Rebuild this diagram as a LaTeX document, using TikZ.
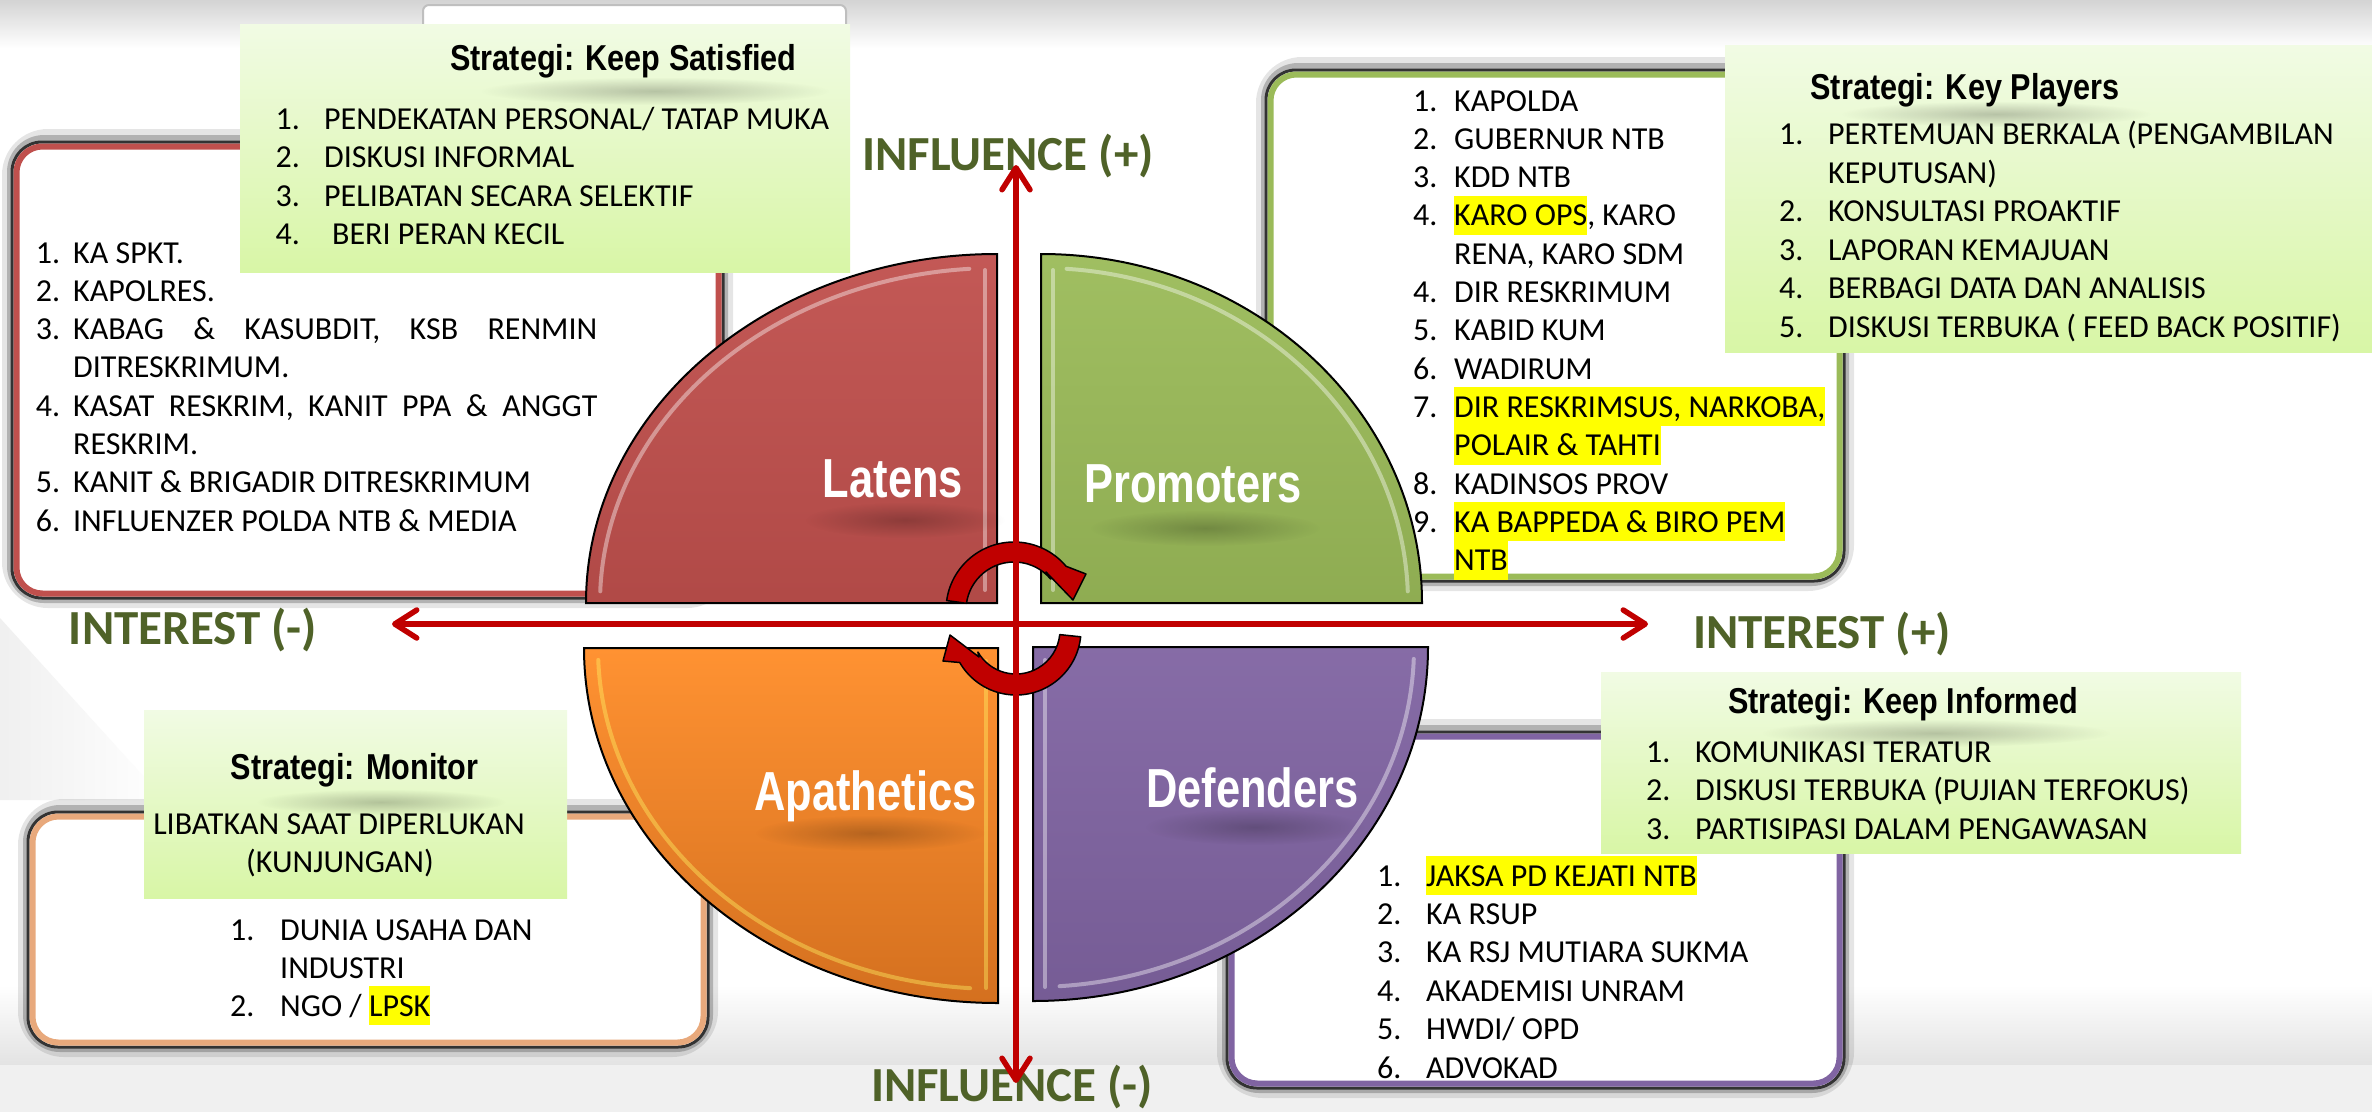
\documentclass[tikz,border=0pt]{standalone}
\usepackage{fontspec}
\setmainfont{Carlito}
\newfontfamily\titlefont[FakeStretch=0.85]{Liberation Sans}
\newfontfamily\quadfont[FakeStretch=0.79]{Liberation Sans}
\usetikzlibrary{arrows.meta,fadings}
\definecolor{axisred}{HTML}{C00000}
\definecolor{axisgreen}{HTML}{4F6228}
\definecolor{latred}{HTML}{C0504D}
\definecolor{progreen}{HTML}{9BBB59}
\definecolor{apatop}{HTML}{FF9232}
\definecolor{apabot}{HTML}{D4701F}
\definecolor{defpurple}{HTML}{8064A2}
\definecolor{boxtan}{HTML}{E8A97C}
\definecolor{strattop}{HTML}{F1FBE4}
\definecolor{stratbot}{HTML}{D8F6A6}
\definecolor{hlyellow}{HTML}{FFFF00}
\tikzfading[name=smudge, inner color=transparent!0, outer color=transparent!100]
\newlength\numw
\newcommand\li[2]{\hbox{\makebox[\numw][l]{#1}#2}}
\newcommand\hl[1]{{\fboxsep=0pt\colorbox{hlyellow}{\rule[-9pt]{0pt}{39pt}#1}}}
\newcommand\listframe[5]{%
  \draw[black,opacity=.10,line width=20pt,rounded corners=36pt] (#2,#3-3) rectangle (#4,#5);
  \draw[black,opacity=.22,line width=10pt,rounded corners=32pt] (#2,#3-2) rectangle (#4,#5);
  \filldraw[fill=white,draw=black!80,line width=3pt,rounded corners=30pt] (#2,#3) rectangle (#4,#5);
  \pgfmathsetmacro\lfxa{#2+4.5}\pgfmathsetmacro\lfya{#3+4.5}%
  \pgfmathsetmacro\lfxb{#4-4.5}\pgfmathsetmacro\lfyb{#5-4.5}%
  \draw[#1,line width=6pt,rounded corners=26pt] (\lfxa,\lfya) rectangle (\lfxb,\lfyb);
}
\tikzset{
  listtext/.style={anchor=base west, inner sep=0pt, font=\fontsize{32}{38}\selectfont},
  plaintext/.style={anchor=base, inner sep=0pt, font=\fontsize{32}{38}\selectfont},
  titletext/.style={anchor=base, inner sep=0pt, font=\titlefont\bfseries\fontsize{36}{36}\selectfont},
  quadlabel/.style={anchor=base, inner sep=0pt, text=white, font=\quadfont\bfseries\fontsize{55}{55}\selectfont},
  axlabel/.style={anchor=base, inner sep=0pt, text=axisgreen, font=\bfseries\fontsize{49}{49}\selectfont},
  stratbox/.style={top color=strattop, bottom color=stratbot},
  quadshape/.style={draw=black, line width=2pt},
  bevel/.style={white, opacity=.4, line width=4pt, line cap=round},
  cyclearrow/.style={fill=axisred, draw=black, line width=1.5pt, line join=round},
  axisline/.style={draw=axisred, line width=5.5pt, >={Straight Barb[length=22pt,width=28pt,round]}, <->},
  smudgefx/.style={fill=black, fill opacity=.22, path fading=smudge},
}
\begin{document}
\begin{tikzpicture}[x=1pt,y=-1pt]
\useasboundingbox (0,0) rectangle (2372,1112);
% ---------- background
\fill[white] (0,0) rectangle (2372,1112);
\shade[top color=black!17,bottom color=white] (0,0) rectangle (2372,48);
\shade[top color=white,bottom color=black!11] (0,985) rectangle (2372,1065);
\fill[black!6] (0,1065) rectangle (2372,1112);
\shade[left color=black!6,right color=white] (0,618) -- (165,800) -- (0,800) -- cycle;
% ---------- box peeking at the top
\filldraw[fill=white,draw=black!25,line width=2pt,rounded corners=6pt] (423,5) rectangle (846,60);
% ---------- list frames
\listframe{latred}{12}{142}{723}{598}
\listframe{progreen}{1266}{70}{1844}{581}
\listframe{boxtan}{28}{812}{708}{1047}
\listframe{defpurple}{1227}{732}{1844}{1088}
% ---------- list texts
\node[listtext] (latlist) at (35.6,263) {\vtop{\baselineskip=38.3pt\lineskiplimit=-100pt\setlength\numw{37.4pt}%
  \li{1.}{KA SPKT.}
  \li{2.}{KAPOLRES.}
  \li{3.}{\makebox[524pt][s]{KABAG \& KASUBDIT, KSB RENMIN}}
  \li{}{DITRESKRIMUM.}
  \li{4.}{\makebox[524pt][s]{KASAT RESKRIM, KANIT PPA \& ANGGT}}
  \li{}{RESKRIM.}
  \li{5.}{KANIT \& BRIGADIR DITRESKRIMUM}
  \li{6.}{INFLUENZER POLDA NTB \& MEDIA}}};
\node[listtext] (prolist) at (1413,111) {\vtop{\baselineskip=38.3pt\lineskiplimit=-100pt\setlength\numw{41pt}%
  \li{1.}{KAPOLDA}
  \li{2.}{GUBERNUR NTB}
  \li{3.}{KDD NTB}
  \li{4.}{\hl{KARO OPS}, KARO}
  \li{}{RENA, KARO SDM}
  \li{4.}{DIR RESKRIMUM}
  \li{5.}{KABID KUM}
  \li{6.}{WADIRUM}
  \li{7.}{\hl{DIR RESKRIMSUS, NARKOBA,}}
  \li{}{\hl{POLAIR \& TAHTI}}
  \li{8.}{KADINSOS PROV}
  \li{9.}{\hl{KA BAPPEDA \& BIRO PEM}}
  \li{}{\hl{NTB}}}};
\node[listtext] (apalist) at (230,940) {\vtop{\baselineskip=38pt\lineskiplimit=-100pt\setlength\numw{50pt}%
  \li{1.}{DUNIA USAHA DAN}
  \li{}{INDUSTRI}
  \li{2.}{NGO / \hl{LPSK}}}};
\node[listtext] (deflist) at (1377,886) {\vtop{\baselineskip=38.4pt\lineskiplimit=-100pt\setlength\numw{49pt}%
  \li{1.}{\hl{JAKSA PD KEJATI NTB}}
  \li{2.}{KA RSUP}
  \li{3.}{KA RSJ MUTIARA SUKMA}
  \li{4.}{AKADEMISI UNRAM}
  \li{5.}{HWDI/ OPD}
  \li{6.}{ADVOKAD}}};
% ---------- strategy boxes
\shade[stratbox] (240,24) rectangle (850,272);
\shade[stratbox] (1725,45) rectangle (2372,352);
\shade[stratbox] (1601,672) rectangle (2241,853);
\shade[stratbox] (144,710) rectangle (567,898);
\fill[smudgefx] (655,91) ellipse [x radius=175, y radius=14];
\fill[smudgefx] (1996,114) ellipse [x radius=155, y radius=13];
\fill[smudgefx] (1936,733) ellipse [x radius=175, y radius=14];
\fill[smudgefx] (381,802) ellipse [x radius=125, y radius=13];
\node[titletext] (kstitle) at (623.5,70) {Strategi: Keep Satisfied};
\node[titletext] (kptitle) at (1965,99) {Strategi: Key Players};
\node[titletext] (kititle) at (1903,713) {Strategi: Keep Informed};
\node[titletext] (motitle) at (354.5,779) {Strategi: Monitor};
\node[listtext] (kslist) at (275.5,129) {\vtop{\baselineskip=38.5pt\lineskiplimit=-100pt\setlength\numw{48.5pt}%
  \li{1.}{PENDEKATAN PERSONAL/ TATAP MUKA}
  \li{2.}{DISKUSI INFORMAL}
  \li{3.}{PELIBATAN SECARA SELEKTIF}
  \li{4.}{\hspace{8pt}BERI PERAN KECIL}}};
\node[listtext] (kplist) at (1779,144.5) {\vtop{\baselineskip=38.5pt\lineskiplimit=-100pt\setlength\numw{49pt}%
  \li{1.}{PERTEMUAN BERKALA (PENGAMBILAN}
  \li{}{KEPUTUSAN)}
  \li{2.}{KONSULTASI PROAKTIF}
  \li{3.}{LAPORAN KEMAJUAN}
  \li{4.}{BERBAGI DATA DAN ANALISIS}
  \li{5.}{DISKUSI TERBUKA ( FEED BACK POSITIF)}}};
\node[listtext] (kilist) at (1646,762) {\vtop{\baselineskip=38.5pt\lineskiplimit=-100pt\setlength\numw{49pt}%
  \li{1.}{KOMUNIKASI TERATUR}
  \li{2.}{DISKUSI TERBUKA (PUJIAN TERFOKUS)}
  \li{3.}{PARTISIPASI DALAM PENGAWASAN}}};
\node[plaintext] (moline1) at (339,834) {LIBATKAN SAAT DIPERLUKAN};
\node[plaintext] (moline2) at (340,872) {(KUNJUNGAN)};
% ---------- quadrants
\begin{scope}[shift={(997,603)}]
  \shadedraw[quadshape, top color=latred!95!white, bottom color=latred!92!black]
    (0,0) -- (-411,0) arc[start angle=180,end angle=270,x radius=411,y radius=349] -- cycle;
  \draw[bevel] (182:397 and 335) arc[start angle=182,end angle=266,x radius=397,y radius=335];
  \draw[bevel] (-12,-333) -- (-12,-13);
\end{scope}
\begin{scope}[shift={(1041,603)}]
  \shadedraw[quadshape, top color=progreen!95!white, bottom color=progreen!92!black]
    (0,0) -- (0,-349) arc[start angle=270,end angle=360,x radius=381,y radius=349] -- cycle;
  \draw[bevel] (274:367 and 335) arc[start angle=274,end angle=358,x radius=367,y radius=335];
  \draw[bevel] (12,-333) -- (12,-13);
\end{scope}
\begin{scope}[shift={(998,648)}]
  \shadedraw[quadshape, top color=apatop, bottom color=apabot]
    (0,0) -- (-414,0) arc[start angle=180,end angle=90,x radius=414,y radius=355] -- cycle;
  \draw[bevel, yellow!60!white] (178:400 and 341) arc[start angle=178,end angle=94,x radius=400,y radius=341];
  \draw[bevel, yellow!60!white] (-12,13) -- (-12,340);
\end{scope}
\begin{scope}[shift={(1033,647)}]
  \shadedraw[quadshape, top color=defpurple!95!white, bottom color=defpurple!92!black]
    (0,0) -- (395,0) arc[start angle=0,end angle=90,x radius=395,y radius=354] -- cycle;
  \draw[bevel] (2:381 and 340) arc[start angle=2,end angle=86,x radius=381,y radius=340];
  \draw[bevel] (12,13) -- (12,340);
\end{scope}
\fill[smudgefx] (905,520) ellipse [x radius=100, y radius=18];
\fill[smudgefx] (1205,528) ellipse [x radius=115, y radius=18];
\fill[smudgefx] (870,833) ellipse [x radius=115, y radius=18];
\fill[smudgefx] (1255,827) ellipse [x radius=110, y radius=18];
\node[quadlabel] (latens) at (893,497) {Latens};
\node[quadlabel] (promoters) at (1193,502) {Promoters};
\node[quadlabel] (apathetics) at (865.5,810) {Apathetics};
\node[quadlabel] (defenders) at (1252.5,807) {Defenders};
% ---------- circular arrows
\begin{scope}[shift={(1014,610)}]
  \filldraw[cyclearrow] (188:68) arc[start angle=188,end angle=320,radius=68]
    -- (72,-36) -- (59,-10) -- (32,-38) -- (320:48) arc[start angle=320,end angle=188,radius=48] -- cycle;
\end{scope}
\begin{scope}[shift={(1016,630)}]
  \filldraw[cyclearrow] (6:65) arc[start angle=6,end angle=150,radius=65]
    -- (-73,31) -- (-66,5) -- (-37,27) -- (150:44) arc[start angle=150,end angle=6,radius=44] -- cycle;
\end{scope}
% ---------- axis labels
\node[axlabel] (infplus) at (1008,170) {INFLUENCE (+)};
\node[axlabel] (infminus) at (1012,1101) {INFLUENCE (-)};
\node[axlabel] (intminus) at (193,644) {INTEREST (-)};
\node[axlabel] (intplus) at (1822,648) {INTEREST (+)};
% ---------- axes
\coordinate (vtop) at (1016,165);
\coordinate (vbot) at (1016,1083);
\coordinate (hleft) at (392,624);
\coordinate (hright) at (1648,624);
\draw[axisline] (vbot) -- (vtop);
\draw[axisline] (hleft) -- (hright);
\end{tikzpicture}
\end{document}
